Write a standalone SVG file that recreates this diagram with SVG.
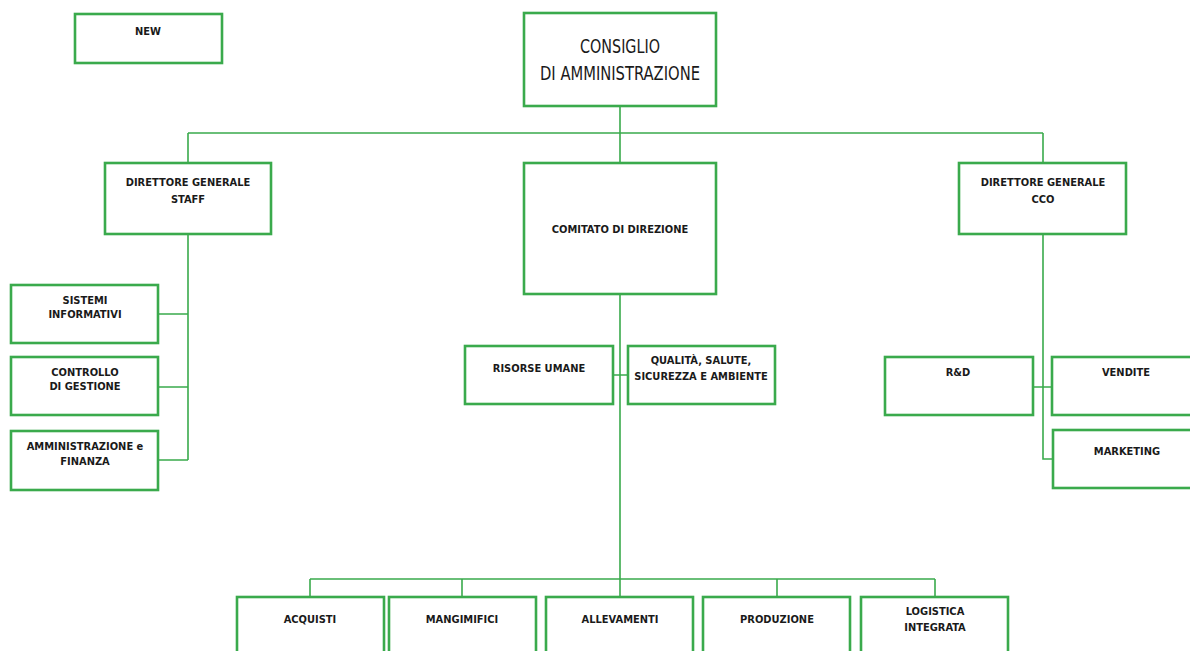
<svg xmlns="http://www.w3.org/2000/svg" width="1190" height="651" viewBox="0 0 1190 651">
  <style>
    .box { fill: #ffffff; stroke: #3aaa4c; stroke-width: 2.6; }
    .link { fill: none; stroke: #3aaa4c; stroke-width: 1.6; }
    .lbl { font-family: "DejaVu Sans Condensed", "DejaVu Sans", sans-serif; font-weight: bold; font-size: 11px; fill: #1a1a1a; text-anchor: middle; }
    .big { font-family: "DejaVu Sans Condensed", "DejaVu Sans", sans-serif; font-size: 19px; fill: #1a1a1a; text-anchor: middle; }
  </style>
  <rect width="1190" height="651" fill="#ffffff"/>

  <!-- connectors -->
  <g id="connectors">
    <path class="link" d="M620 106 V133 M188 133 H1043 M188 133 V163 M620 133 V163 M1043 133 V163"/>
    <!-- staff branch -->
    <path class="link" d="M188 234 V460 M158 314 H188 M158 387 H188 M158 460 H188"/>
    <!-- comitato branch -->
    <path class="link" d="M620 294 V579 M613 375 H628"/>
    <path class="link" d="M310 579 H935 M310 579 V597 M462 579 V597 M777 579 V597 M935 579 V597 M620 579 V597"/>
    <!-- cco branch -->
    <path class="link" d="M1043 234 V459 H1053 M1033 387 H1052"/>
  </g>

  <g id="new"><rect class="box" x="75" y="14" width="147" height="49"/><text class="lbl" x="148" y="35">NEW</text></g>

  <g id="consiglio">
    <rect class="box" x="524" y="13" width="192" height="93"/>
    <text class="big" x="620" y="53" textLength="80" lengthAdjust="spacingAndGlyphs">CONSIGLIO</text>
    <text class="big" x="620" y="80" textLength="160" lengthAdjust="spacingAndGlyphs">DI AMMINISTRAZIONE</text>
  </g>

  <g id="dg-staff">
    <rect class="box" x="105" y="163" width="166" height="71"/>
    <text class="lbl" x="188" y="186" font-size="12">DIRETTORE GENERALE</text>
    <text class="lbl" x="188" y="203" font-size="12">STAFF</text>
  </g>

  <g id="comitato">
    <rect class="box" x="524" y="163" width="192" height="131"/>
    <text class="lbl" x="620" y="233" font-size="12">COMITATO DI DIREZIONE</text>
  </g>

  <g id="dg-cco">
    <rect class="box" x="959" y="163" width="167" height="71"/>
    <text class="lbl" x="1043" y="186" font-size="12">DIRETTORE GENERALE</text>
    <text class="lbl" x="1043" y="203" font-size="12">CCO</text>
  </g>

  <g id="sistemi">
    <rect class="box" x="11" y="285" width="147" height="58"/>
    <text class="lbl" x="85" y="304">SISTEMI</text>
    <text class="lbl" x="85" y="318">INFORMATIVI</text>
  </g>
  <g id="controllo">
    <rect class="box" x="11" y="357" width="147" height="58"/>
    <text class="lbl" x="85" y="376">CONTROLLO</text>
    <text class="lbl" x="85" y="390">DI GESTIONE</text>
  </g>
  <g id="amministrazione">
    <rect class="box" x="11" y="431" width="147" height="59"/>
    <text class="lbl" x="85" y="450">AMMINISTRAZIONE e</text>
    <text class="lbl" x="85" y="465">FINANZA</text>
  </g>

  <g id="risorse">
    <rect class="box" x="465" y="346" width="148" height="58"/>
    <text class="lbl" x="539" y="372">RISORSE UMANE</text>
  </g>
  <g id="qualita">
    <rect class="box" x="628" y="346" width="147" height="58"/>
    <text class="lbl" x="701" y="364">QUALITÀ, SALUTE,</text>
    <text class="lbl" x="701" y="380">SICUREZZA E AMBIENTE</text>
  </g>

  <g id="rd">
    <rect class="box" x="885" y="357" width="148" height="58"/>
    <text class="lbl" x="958" y="376">R&amp;D</text>
  </g>
  <g id="vendite">
    <rect class="box" x="1052" y="357" width="150" height="58"/>
    <text class="lbl" x="1126" y="376">VENDITE</text>
  </g>
  <g id="marketing">
    <rect class="box" x="1053" y="430" width="150" height="58"/>
    <text class="lbl" x="1127" y="455">MARKETING</text>
  </g>

  <g id="acquisti"><rect class="box" x="237" y="597" width="147" height="70"/><text class="lbl" x="310" y="623">ACQUISTI</text></g>
  <g id="mangimifici"><rect class="box" x="389" y="597" width="147" height="70"/><text class="lbl" x="462" y="623">MANGIMIFICI</text></g>
  <g id="allevamenti"><rect class="box" x="546" y="597" width="147" height="70"/><text class="lbl" x="620" y="623">ALLEVAMENTI</text></g>
  <g id="produzione"><rect class="box" x="703" y="597" width="147" height="70"/><text class="lbl" x="777" y="623">PRODUZIONE</text></g>
  <g id="logistica">
    <rect class="box" x="861" y="597" width="147" height="70"/>
    <text class="lbl" x="935" y="615">LOGISTICA</text>
    <text class="lbl" x="935" y="631">INTEGRATA</text>
  </g>
</svg>
